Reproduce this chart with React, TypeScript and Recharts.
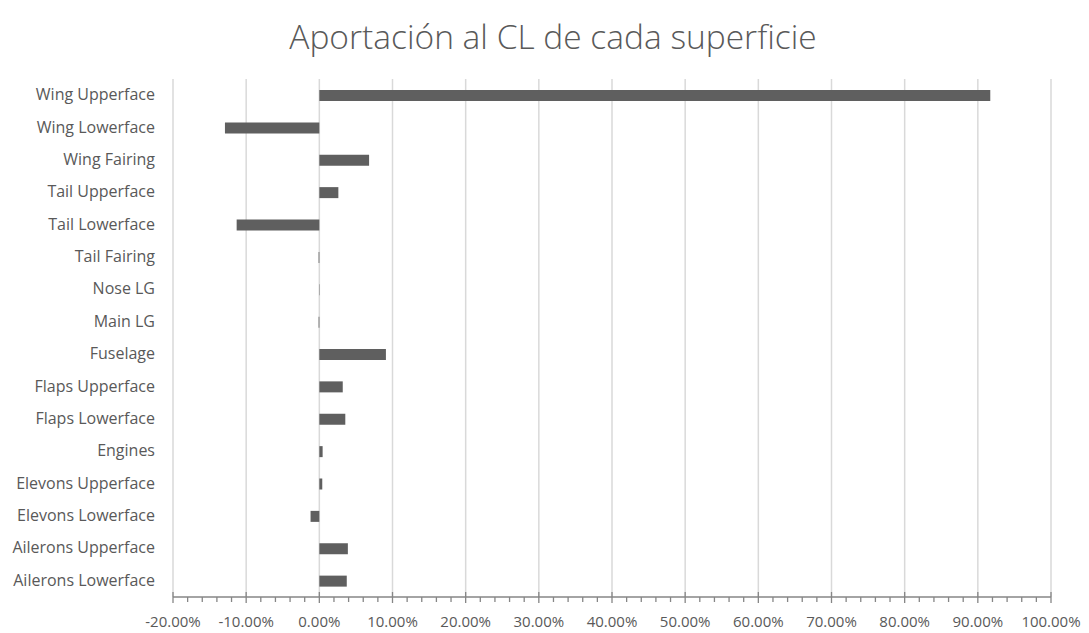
import React from "react";
import { BarChart, Bar, XAxis, YAxis, CartesianGrid } from "recharts";

const categories = [
  "Wing Upperface",
  "Wing Lowerface",
  "Wing Fairing",
  "Tail Upperface",
  "Tail Lowerface",
  "Tail Fairing",
  "Nose LG",
  "Main LG",
  "Fuselage",
  "Flaps Upperface",
  "Flaps Lowerface",
  "Engines",
  "Elevons Upperface",
  "Elevons Lowerface",
  "Ailerons Upperface",
  "Ailerons Lowerface",
];

const contribution = [91.7, -12.9, 6.8, 2.6, -11.3, -0.1, 0.05, -0.1, 9.1, 3.2, 3.55, 0.45, 0.4, -1.2, 3.9, 3.75];

const majorTicks = [-20, -10, 0, 10, 20, 30, 40, 50, 60, 70, 80, 90, 100];
const allTicks = [
  -20, -18, -16, -14, -12, -10, -8, -6, -4, -2, 0, 2, 4, 6, 8, 10, 12, 14, 16, 18, 20,
  22, 24, 26, 28, 30, 32, 34, 36, 38, 40, 42, 44, 46, 48, 50, 52, 54, 56, 58, 60,
  62, 64, 66, 68, 70, 72, 74, 76, 78, 80, 82, 84, 86, 88, 90, 92, 94, 96, 98, 100,
];

const data = categories.map((name, i) => ({ name, value: contribution[i] }));

const FONT = "'Open Sans', sans-serif";
const TEXT = "#595959";

const XTick = (props: any) => {
  const { x, y, payload } = props;
  const v = payload.value as number;
  const major = majorTicks.includes(v);
  return (
    <g>
      {major ? (
        <line x1={x} x2={x} y1={y - 5} y2={y + 6} stroke="#868686" strokeWidth={1.3} />
      ) : (
        <line x1={x} x2={x} y1={y} y2={y + 5} stroke="#868686" strokeWidth={1.3} />
      )}
      {major && (
        <text x={x} y={y + 30} textAnchor="middle" fill={TEXT} fontSize={15} fontFamily={FONT}>
          {v.toFixed(2) + "%"}
        </text>
      )}
    </g>
  );
};

const YTick = (props: any) => {
  const { x, y, payload } = props;
  return (
    <text x={x} y={y} dy={5} textAnchor="end" fill={TEXT} fontSize={16} fontFamily={FONT}>
      {payload.value}
    </text>
  );
};

export default function App() {
  return (
    <div style={{ position: "absolute", left: 0, top: 0, width: 1089, height: 633, background: "#fff", fontFamily: FONT }}>
      <div
        style={{
          position: "absolute",
          left: 0,
          width: 1106,
          top: 13,
          textAlign: "center",
          fontSize: 33.5,
          lineHeight: "46px",
          fontWeight: 300,
          color: TEXT,
          fontFamily: FONT,
          whiteSpace: "nowrap",
        }}
      >
        Aportación al CL de cada superficie
      </div>
      <BarChart
        width={1089}
        height={633}
        data={data}
        layout="vertical"
        margin={{ top: 79, right: 38, left: 0, bottom: 0 }}
        barCategoryGap="0%"
      >
        <CartesianGrid horizontal={false} verticalValues={majorTicks} stroke="#d9d9d9" strokeWidth={1.5} />
        <XAxis
          type="number"
          domain={[-20, 100]}
          ticks={allTicks}
          interval={0}
          height={36}
          tickSize={0}
          tickMargin={0}
          tickLine={false}
          axisLine={{ stroke: "#868686", strokeWidth: 1.3 }}
          tick={<XTick />}
          allowDataOverflow
        />
        <YAxis
          type="category"
          dataKey="name"
          width={173}
          axisLine={false}
          tickLine={false}
          tickSize={0}
          tickMargin={18}
          interval={0}
          tick={<YTick />}
        />
        <Bar dataKey="value" fill="#5f5f5f" barSize={11} isAnimationActive={false} />
      </BarChart>
    </div>
  );
}
